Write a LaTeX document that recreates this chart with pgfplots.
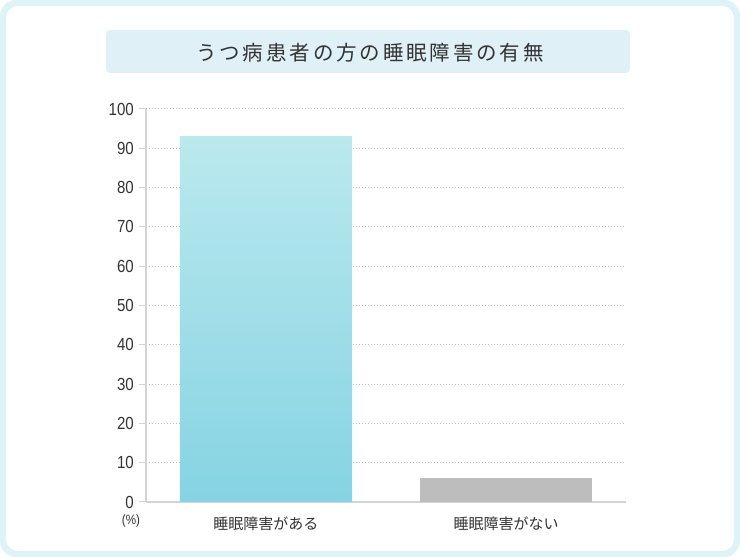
\documentclass[border=0pt]{standalone}
\usepackage{pgfplots}
\pgfplotsset{compat=1.18}
\usepackage{fontspec}
\setmainfont{Liberation Sans}
\newfontfamily\tickfont[FakeStretch=0.86]{Liberation Sans}
\newfontfamily\jp{Noto Sans CJK JP}
\newfontfamily\jptitle[LetterSpace=14]{Noto Sans CJK JP}
\definecolor{txt}{HTML}{333333}
\definecolor{frame}{HTML}{DDF3F8}
\definecolor{titlebg}{HTML}{DFF1F6}
\definecolor{gridc}{HTML}{BEBEBE}
\definecolor{axc}{HTML}{D4D4D4}
\definecolor{bartop}{HTML}{BAE9EE}
\definecolor{barbot}{HTML}{86D3E3}
\definecolor{bargray}{HTML}{BDBDBD}
\begin{document}
\begin{tikzpicture}[x=1pt,y=1pt]
\fill[frame, rounded corners=16pt] (0,0) rectangle (740,557);
\fill[white, rounded corners=12pt] (6,6) rectangle (734,551);
\fill[titlebg, rounded corners=4pt] (106,484) rectangle (630,527);
\node[text=txt, font={\jptitle\fontsize{20.5}{24}\selectfont}] at (370,504.5) {うつ病患者の方の睡眠障害の有無};
\node[text=txt, font={\tickfont\fontsize{13.5}{16}\selectfont}] at (131,36) {(\%)};
\begin{axis}[
  at={(146pt,55pt)}, anchor=south west,
  scale only axis, width=480pt, height=393pt,
  xmin=-0.5, xmax=1.5, ymin=0, ymax=100,
  axis lines*=left,
  axis line style={axc, line width=1.6pt},
  ytick={0,10,...,100},
  xtick={0,1},
  xticklabels={睡眠障害がある,睡眠障害がない},
  xticklabel style={font={\jp\fontsize{15}{18}\selectfont}, text=txt, yshift=-4pt},
  yticklabel style={font={\tickfont\fontsize{17.5}{20}\selectfont}, text=txt, inner sep=1pt, xshift=-4pt},
  /pgf/number format/assume math mode=true,
  x tick style={draw=none},
  y tick style={axc, line width=1pt},
  tick align=outside,
  major tick length=7pt,
  ymajorgrids,
  major grid style={gridc, dash pattern=on 1pt off 2pt, line width=1pt},
  ybar, bar width=172pt, bar shift=0pt,
  clip=false,
]
\addplot[draw=none, top color=bartop, bottom color=barbot] coordinates {(0,93)};
\addplot[draw=none, fill=bargray] coordinates {(1,6)};
\end{axis}
\pgfresetboundingbox
\useasboundingbox (0,0) rectangle (740,557);
\end{tikzpicture}
\end{document}
